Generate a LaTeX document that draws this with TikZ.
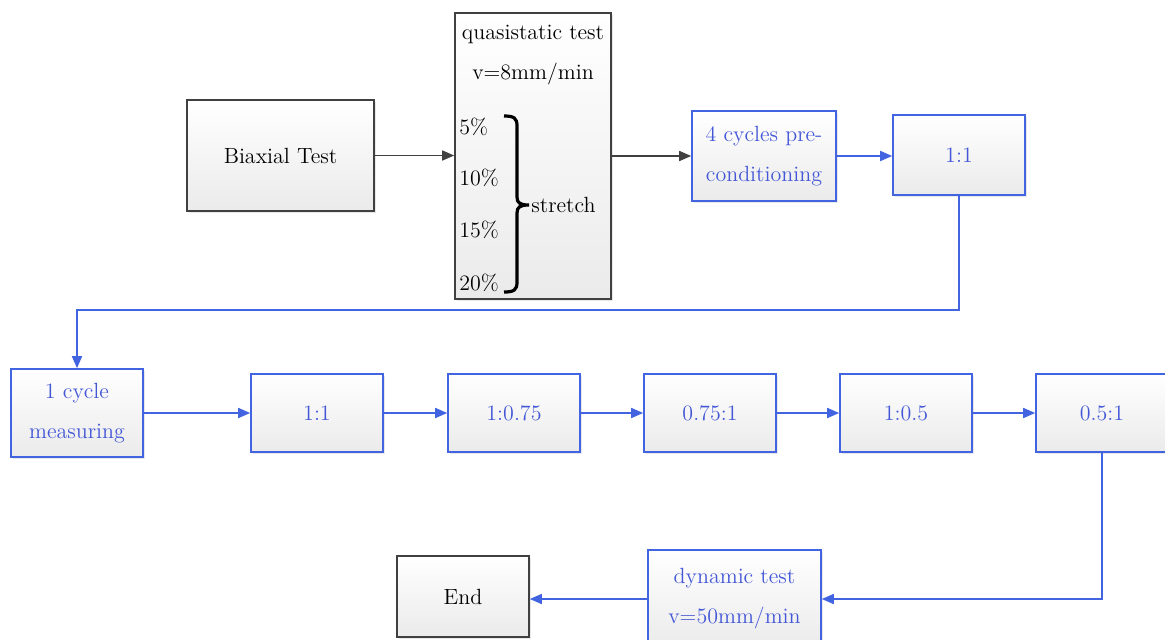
\documentclass[tikz,border=0pt]{standalone}
\usetikzlibrary{arrows.meta,shadows}
\definecolor{flowblue}{RGB}{66,100,225}
\definecolor{textblue}{RGB}{68,88,215}
\definecolor{boxgray}{RGB}{64,64,64}
\begin{document}
\begin{tikzpicture}[x=0.5pt, y=-0.5pt,
      % --- GLOBAL STYLES & COLORS ---
      every node/.style={font=\fontsize{11}{20}\selectfont},
      box-base/.style={rectangle, top color=white, bottom color=gray!16, line width=0.8pt, align=center, inner sep=2pt,
        drop shadow={shadow xshift=1.2pt, shadow yshift=-1.2pt, opacity=0.18}},
      box-black/.style={box-base, draw=boxgray, text=black},
      box-blue/.style={box-base, draw=flowblue, text=textblue},
      %
      step-sm/.style={minimum width=66pt, minimum height=39pt},
      pct/.style={anchor=west, inner sep=0pt},
      line-black/.style={draw=boxgray, line width=0.8pt, -{Triangle[length=6pt,width=5pt]}},
      line-blue/.style={draw=flowblue, line width=0.8pt, -{Triangle[length=6pt,width=5pt]}}
  ]
    \useasboundingbox (0,0) rectangle (1165,639);
    %
    % 1. Start and quasistatic test
    \node[box-black, minimum width=93.5pt, minimum height=55.5pt] (biax) at (280.5,155.5) {Biaxial Test};
    \node[box-black, minimum width=78pt, minimum height=143pt] (quasi) at (533,156) {};
    \node (qtitle) at (533,55) [align=center] {quasistatic test\\v=8mm/min};
    \node[pct] (p5) at (459,127) {5\%};
    \node[pct] (p10) at (459,178) {10\%};
    \node[pct] (p15) at (459,230) {15\%};
    \node[pct] (p20) at (459,283) {20\%};
    % bracket
    \draw[line width=1.6pt] (504,116) .. controls (514,116) and (517,118) .. (517,126) -- (517,197)
      .. controls (517,203) and (520,205) .. (529,205) .. controls (520,205) and (517,207) .. (517,213)
      -- (517,282) .. controls (517,290) and (514,292) .. (504,292);
    \node[anchor=west, inner sep=0pt] (stretch) at (531,205) {stretch};
    %
    % 2. Preconditioning
    \node[box-blue, minimum width=72pt, minimum height=45pt] (precond) at (764,156) {4 cycles pre-\\conditioning};
    \node[box-blue, minimum width=66pt, minimum height=40pt] (ratioA) at (959,155) {1:1};
    %
    % 3. Measuring row
    \node[box-blue, minimum width=66pt, minimum height=44pt] (measure) at (77,413) {1 cycle\\measuring};
    \node[box-blue, step-sm] (ratioB) at (317,413) {1:1};
    \node[box-blue, step-sm] (ratioC) at (514,413) {1:0.75};
    \node[box-blue, step-sm] (ratioD) at (710,413) {0.75:1};
    \node[box-blue, step-sm] (ratioE) at (906,413) {1:0.5};
    \node[box-blue, step-sm] (ratioF) at (1102,413) {0.5:1};
    %
    % 4. Dynamic test and end
    \node[box-blue, minimum width=86.5pt, minimum height=49pt] (dynamic) at (734.5,599) {dynamic test\\v=50mm/min};
    \node[box-black, minimum width=66pt, minimum height=40.5pt] (finish) at (463,596.5) {End};
    %
    % 5. Links
    \draw[line-black] (biax.east) -- (quasi.west |- biax.east);
    \draw[line-black] (quasi.east) -- (precond.west);
    \draw[line-blue] (precond.east) -- (ratioA.west |- precond.east);
    \draw[line-blue] (ratioA.south) -- ++(0,114) -| (measure.north);
    \draw[line-blue] (measure.east) -- (ratioB.west);
    \draw[line-blue] (ratioB.east) -- (ratioC.west);
    \draw[line-blue] (ratioC.east) -- (ratioD.west);
    \draw[line-blue] (ratioD.east) -- (ratioE.west);
    \draw[line-blue] (ratioE.east) -- (ratioF.west);
    \draw[line-blue] (ratioF.south) |- (dynamic.east);
    \draw[line-blue] (dynamic.west) -- (finish.east |- dynamic.west);
  \end{tikzpicture}
\end{document}
